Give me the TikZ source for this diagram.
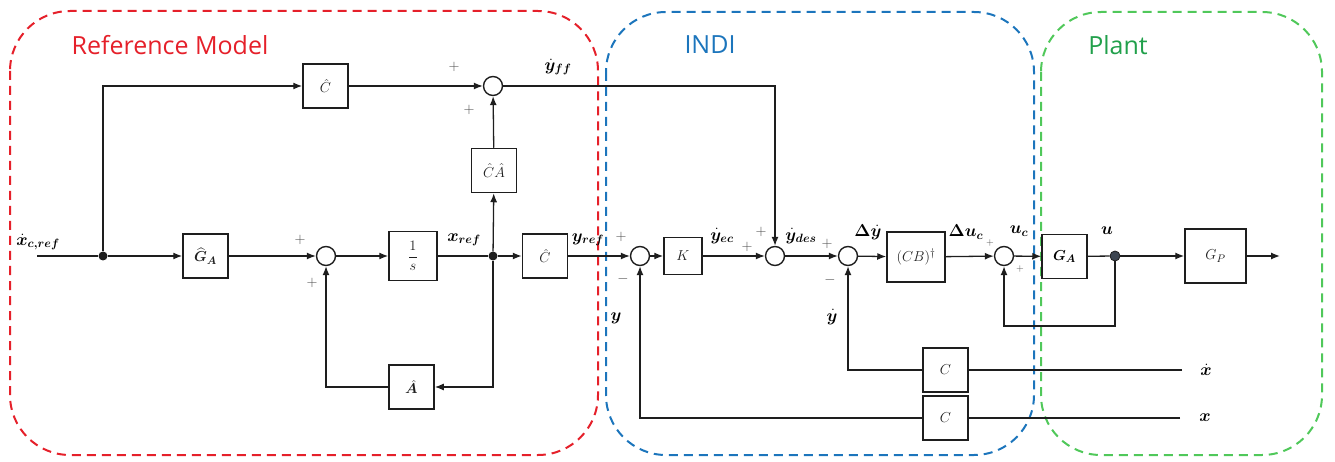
\documentclass[tikz,border=0pt]{standalone}
\usepackage{fontspec}
\usepackage{amsmath,bm}
\newfontfamily\titlefont{Open Sans}
\usetikzlibrary{arrows.meta}
\definecolor{rmred}{RGB}{229,32,42}
\definecolor{indiblue}{RGB}{28,117,188}
\definecolor{plantgreen}{RGB}{80,200,90}
\definecolor{planttext}{RGB}{33,160,75}
\definecolor{linec}{RGB}{30,30,30}
\definecolor{dotc}{RGB}{60,68,80}
\tikzset{
  blk/.style={draw=linec,line width=1.5pt,minimum width=45pt,minimum height=44pt,inner sep=0pt,font=\fontsize{15}{18}\selectfont,text=black!88},
  sumc/.style={circle,draw=linec,line width=1.4pt,minimum size=19pt,inner sep=0pt},
  jdot/.style={circle,fill=linec,minimum size=9pt,inner sep=0pt},
  arr/.style={-{Latex[length=9pt,width=7pt]},line width=1.3pt,draw=linec},
  wire/.style={line width=1.3pt,draw=linec},
  lbl/.style={font=\fontsize{17}{20}\selectfont,inner sep=0pt},
  pm/.style={font=\fontsize{14}{16}\selectfont,text=black!70,inner sep=0pt},
  pms/.style={font=\fontsize{10}{12}\selectfont,text=black!70,inner sep=0pt},
  region/.style={dashed,dash pattern=on 9pt off 6pt,line width=2pt,rounded corners=60pt},
  title/.style={font=\titlefont\fontsize{25}{30}\selectfont,inner sep=0pt}
}
\begin{document}
\begin{tikzpicture}[x=1pt,y=-1pt]
\useasboundingbox (0,0) rectangle (1335,462);
% regions
\draw[region,draw=rmred] (10,11) rectangle (598,455);
\draw[region,draw=indiblue] (606,12) rectangle (1034,455);
\draw[region,draw=plantgreen] (1041,12) rectangle (1322,455);
\node[title,text=rmred] (tRM) at (170,45) {Reference Model};
\node[title,text=indiblue] (tINDI) at (710,45) {INDI};
\node[title,text=planttext] (tPlant) at (1118,45) {Plant};
% nodes
\coordinate (in) at (37,256);
\node[jdot] (j1) at (103,256) {};
\node[blk] (ch1) at (325.5,86) {$\hat{C}$};
\node[sumc] (s1) at (493,86) {};
\node[blk] (gah) at (205.5,256) {$\widehat{\bm G}_{\bm A}$};
\node[sumc] (s2) at (326,256) {};
\node[blk,minimum width=48pt,minimum height=49pt] (integ) at (413,256) {$\dfrac{1}{s}$};
\node[jdot] (j2) at (493,256) {};
\node[blk] (cha) at (494,170.5) {$\hat{C}\hat{A}$};
\node[blk] (ahat) at (411.5,387) {$\hat{\bm A}$};
\node[blk] (ch2) at (545,256) {$\hat{C}$};
\node[sumc] (s3) at (640,256) {};
\node[blk,minimum width=38pt,minimum height=37pt] (K) at (683,256) {$K$};
\node[sumc] (s4) at (775,256) {};
\node[sumc] (s5) at (848,256) {};
\node[blk,minimum width=58pt,minimum height=50pt] (cb) at (916,257) {$(CB)^{\dagger}$};
\node[sumc] (s6) at (1004,256) {};
\node[blk,text=black] (ga) at (1064.5,256.5) {$\bm G_{\bm A}$};
\node[circle,fill=dotc,draw=linec,line width=0.8pt,minimum size=10pt,inner sep=0pt] (ud) at (1115,256) {};
\node[blk,minimum width=61pt,minimum height=54pt] (gp) at (1215.5,256) {$G_P$};
\coordinate (out) at (1280,256);
\node[blk] (c1) at (945.5,370) {$C$};
\node[blk] (c2) at (945.5,418) {$C$};
\coordinate (xdend) at (1182,370);
\coordinate (xend) at (1180,418);
% connectors
\draw[wire] (in) -- (j1);
\draw[arr] (j1) -- (gah);
\draw[arr] (j1) |- (ch1.west);
\draw[arr] (ch1) -- (s1);
\draw[arr] (s1.east) -| (s4.north);
\draw[arr] (gah) -- (s2);
\draw[arr] (s2) -- (integ);
\draw[wire] (integ) -- (j2);
\draw[arr] (j2) -- (ch2);
\draw[arr] (j2) -- (cha);
\draw[arr] (cha) -- (s1);
\draw[arr] (j2) |- (ahat.east);
\draw[arr] (ahat.west) -| (s2.south);
\draw[arr] (ch2) -- (s3);
\draw[arr] (s3) -- (K);
\draw[arr] (K) -- (s4);
\draw[arr] (s4) -- (s5);
\draw[arr] (s5) -- (cb);
\draw[arr] (cb) -- (s6);
\draw[arr] (s6) -- (ga);
\draw[wire] (ga) -- (ud);
\draw[arr] (ud) -- (gp);
\draw[arr] (gp) -- (out);
\draw[arr] (ud) -- ++(0,70) -| (s6.south);
\draw[wire] (xdend) -- (c1.east);
\draw[arr] (c1.west) -| (s5.south);
\draw[wire] (xend) -- (c2.east);
\draw[arr] (c2.west) -| (s3.south);
% signal labels
\node[lbl] (lxc) at (38,242) {$\dot{\bm x}_{\bm{c,ref}}$};
\node[lbl] (lyff) at (558,67) {$\dot{\bm y}_{\bm{ff}}$};
\node[lbl] (lxref) at (464,240) {$\bm x_{\bm{ref}}$};
\node[lbl] (lyref) at (588,240) {$\bm y_{\bm{ref}}$};
\node[lbl] (lyec) at (722,236) {$\dot{\bm y}_{\bm{ec}}$};
\node[lbl] (lydes) at (801,236) {$\dot{\bm y}_{\bm{des}}$};
\node[lbl] (ldy) at (868,232) {$\bm\Delta\dot{\bm y}$};
\node[lbl] (lduc) at (966,232) {$\bm\Delta\bm u_{\bm c}$};
\node[lbl] (luc) at (1019,231) {$\bm u_{\bm c}$};
\node[lbl] (lu) at (1107,231) {$\bm u$};
\node[lbl] (lyd) at (832,317) {$\dot{\bm y}$};
\node[lbl] (ly) at (616,318) {$\bm y$};
\node[lbl] (lxd) at (1206,370) {$\dot{\bm x}$};
\node[lbl] (lx) at (1205,418) {$\bm x$};
% signs
\node[pm] (p1) at (454,67) {$+$};
\node[pm] (p2) at (469,110) {$+$};
\node[pm] (p3) at (300,240) {$+$};
\node[pm] (p4) at (312,283) {$+$};
\node[pm] (p5) at (621,237) {$+$};
\node[pm] (p6) at (623,279) {$-$};
\node[pm] (p7) at (761,232) {$+$};
\node[pm] (p8) at (747,247) {$+$};
\node[pm] (p9) at (827,244) {$+$};
\node[pm] (p10) at (830,280) {$-$};
\node[pms] (p11) at (990,243) {$+$};
\node[pms] (p12) at (1020,269) {$+$};
\end{tikzpicture}
\end{document}
